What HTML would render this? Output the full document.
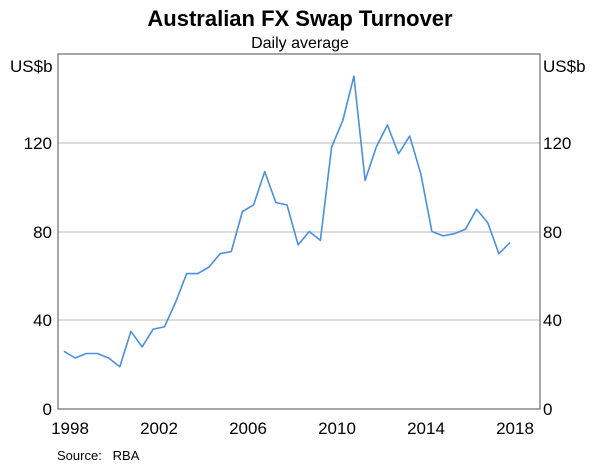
<!DOCTYPE html>
<html><head><meta charset="utf-8"><style>
body{margin:0;background:#fff;}
svg text{font-family:"Liberation Sans",Arial,sans-serif;fill:#000;}
</style></head><body>
<svg width="600" height="465" xmlns="http://www.w3.org/2000/svg">
<rect width="600" height="465" fill="#fff"/>
<text x="300" y="26" font-size="22" font-weight="bold" text-anchor="middle">Australian FX Swap Turnover</text>
<text x="300" y="48" font-size="16" text-anchor="middle">Daily average</text>
<g stroke="#c8c8c8" stroke-width="1.3">
<line x1="58" y1="143" x2="540" y2="143"/>
<line x1="58" y1="232" x2="540" y2="232"/>
<line x1="58" y1="320" x2="540" y2="320"/>
</g>
<rect x="58" y="54" width="482" height="355" fill="none" stroke="#777" stroke-width="1.3"/>
<g stroke="#777" stroke-width="1.2" id="ticks"></g>
<g font-size="17">
<text x="10" y="72">US$b</text>
<text x="543" y="72">US$b</text>
<text x="52" y="149" text-anchor="end">120</text>
<text x="52" y="238" text-anchor="end">80</text>
<text x="52" y="326" text-anchor="end">40</text>
<text x="52" y="415" text-anchor="end">0</text>
<text x="543" y="149">120</text>
<text x="543" y="238">80</text>
<text x="543" y="326">40</text>
<text x="543" y="415">0</text>
<text x="70" y="434" text-anchor="middle">1998</text>
<text x="159" y="434" text-anchor="middle">2002</text>
<text x="248" y="434" text-anchor="middle">2006</text>
<text x="337" y="434" text-anchor="middle">2010</text>
<text x="426" y="434" text-anchor="middle">2014</text>
<text x="515" y="434" text-anchor="middle">2018</text>
</g>
<text x="57" y="460" font-size="13" xml:space="preserve">Source:   RBA</text>
<polyline id="line" fill="none" stroke="#4a90e2" stroke-width="1.6" stroke-linejoin="round" points=""/>
<script>
var v=[26,23,25,25,23,19,35,28,36,37,48,61,61,64,70,71,89,92,107,93,92,74,80,76,118,130,150,103,118,128,115,123,106,80,78,79,81,90,84,70,75];
var p=v.map(function(d,i){return (64+11.15*i).toFixed(1)+","+(409-2.219*d).toFixed(1)}).join(" ");
document.getElementById("line").setAttribute("points",p);
var t="";for(var k=1;k<=21;k++){var x=58+22.3*k;t+='<line x1="'+x+'" y1="409" x2="'+x+'" y2="403"/>';}
document.getElementById("ticks").innerHTML=t;
</script>
</svg>
</body></html>
